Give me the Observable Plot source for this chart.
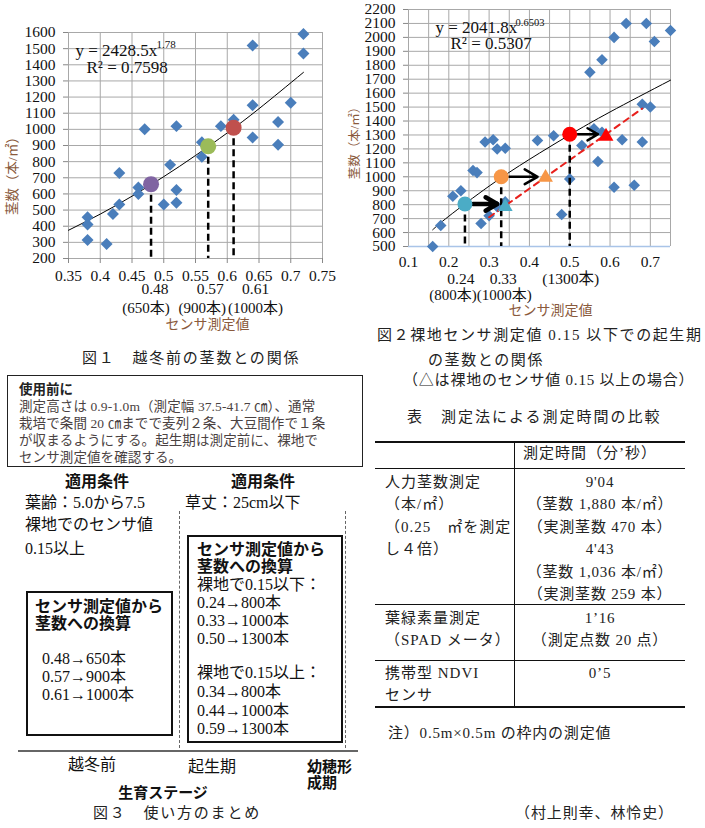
<!DOCTYPE html>
<html><head><meta charset="utf-8">
<script src="https://cdn.jsdelivr.net/npm/d3@7"></script>
<script src="https://cdn.jsdelivr.net/npm/@observablehq/plot@0.6"></script>
<style>
body{margin:0;background:#fff;}
#page{position:relative;width:705px;height:828px;overflow:hidden;font-family:"Liberation Serif","Noto Sans CJK JP",serif;color:#222;}
.t{position:absolute;white-space:pre;line-height:1;}
.plotwrap{position:absolute;}
</style></head><body><div id="page"></div>
<script>
// ---------- Figure 1 data ----------
const fig1Sensor = [0.72,0.72,0.64,0.70,0.64,0.68,0.64,0.68,0.61,0.59,0.52,0.47,0.56,0.56,0.51,0.43,0.46,0.52,0.46,0.43,0.50,0.52,0.42,0.38,0.38,0.38,0.41];
const fig1Stems  = [1590,1470,1520,1165,1150,1045,950,905,1060,1020,1020,1000,920,830,780,730,640,625,600,535,535,545,475,455,410,315,290];
const fig1XTicks = [0.35,0.4,0.45,0.5,0.55,0.6,0.65,0.7,0.75];
const fig1YTicks = [200,300,400,500,600,700,800,900,1000,1100,1200,1300,1400,1500,1600];
const fig1TrendX = [0.35,0.40,0.45,0.50,0.55,0.60,0.65,0.72];
const fig1TrendY = [375,475,586,707,838,978,1128,1353];
const fig1KeySensor = [0.48,0.57,0.61];
const fig1KeyStems  = [660,895,1010];
const fig1KeyCount  = [650,900,1000];
const fig1KeyColors = ["#8064A2","#9BBB59","#C0504D"];
const fig1Eq = "y = 2428.5x", fig1Exp = "1.78", fig1R2 = "R² = 0.7598";

// ---------- Figure 2 data ----------
const fig2Sensor = [0.75,0.64,0.69,0.71,0.61,0.58,0.55,0.68,0.70,0.56,0.58,0.63,0.68,0.53,0.57,0.46,0.42,0.29,0.31,0.32,0.34,0.26,0.27,0.50,0.61,0.66,0.23,0.21,0.18,0.16,0.28,0.30,0.32,0.34,0.48];
const fig2Stems  = [2050,2100,2100,1970,2000,1840,1750,1520,1500,1345,1320,1265,1250,1225,1110,1295,1260,1250,1265,1200,1205,1045,1030,985,925,940,900,860,650,500,665,720,785,820,730];
const fig2XGrid  = [0.1,0.15,0.2,0.25,0.3,0.35,0.4,0.45,0.5,0.55,0.6,0.65,0.7,0.75];
const fig2XLabels = [0.1,0.2,0.3,0.4,0.5,0.6,0.7];
const fig2YTicks = [500,600,700,800,900,1000,1100,1200,1300,1400,1500,1600,1700,1800,1900,2000,2100,2200];
const fig2TrendX = [0.16,0.20,0.30,0.40,0.50,0.60,0.75];
const fig2TrendY = [620,717,933,1125,1301,1465,1693];
const fig2KeySensor = [0.24,0.33,0.50];     // bare-ground ≤0.15 (circles)
const fig2KeyStems  = [805,1000,1305];
const fig2KeyCount  = [800,1000,1300];
const fig2TriSensor = [0.34,0.44,0.59];     // bare-ground ≥0.15 (triangles)
const fig2TriStems  = [785,995,1290];
const fig2KeyColors = ["#4BACC6","#F79646","#FF0000"];
const fig2DashX = [0.30,0.68];
const fig2DashY = [710,1490];
const fig2Eq = "y = 2041.8x", fig2Exp = "0.6503", fig2R2 = "R² = 0.5307";

// ---------- Table data ----------
const tableHeader = "測定時間（分’秒）";
const tableRowsLeft = [["人力茎数測定","（本/㎡）","（0.25　㎡を測定","し４倍）"],["葉緑素量測定","（SPAD メータ）"],["携帯型 NDVI","センサ"]];
const tableRowsRight = [["9'04","（茎数 1,880 本/㎡）","（実測茎数 470 本）","4'43","（茎数 1,036 本/㎡）","（実測茎数 259 本）"],["1’16","（測定点数 20 点）"],["0’5"]];

const SERIF = '"Liberation Serif","Noto Sans CJK JP",serif';
const GRID = "#a8a8a8";
const BLUE = "#4A7EBB";
const BROWN = "#8a5a3c";
const page = document.getElementById("page");

function T(txt, x, y, o = {}) {
  const d = document.createElement("div");
  d.className = "t";
  d.textContent = txt;
  d.style.left = x + "px"; d.style.top = y + "px";
  d.style.fontSize = (o.size || 15) + "px";
  if (o.bold) d.style.fontWeight = "bold";
  if (o.ls != null) d.style.letterSpacing = o.ls + "px";
  d.style.color = o.color || "#222";
  if (o.font) d.style.fontFamily = o.font;
  d.style.transform = o.center ? "translate(-50%,-50%)" : "translateY(-50%)";
  page.appendChild(d);
  return d;
}
function R(x, y, w, h, css) {
  const d = document.createElement("div");
  d.style.position = "absolute";
  d.style.boxSizing = "border-box";
  d.style.left = x + "px"; d.style.top = y + "px";
  d.style.width = w + "px"; d.style.height = h + "px";
  Object.assign(d.style, css);
  page.appendChild(d);
  return d;
}
function place(svg, x, y) {
  const w = document.createElement("div");
  w.className = "plotwrap";
  w.style.left = x + "px"; w.style.top = y + "px";
  w.appendChild(svg);
  page.appendChild(w);
}
const M = {lineAnchor: "middle"};

// ---------- Figure 1 ----------
const i1 = d3.range(fig1Sensor.length), k1 = d3.range(fig1KeySensor.length);
const f1LabelDx = [4, 2, 22], f1CountDx = [-5, -6, 22];
const fig1 = Plot.plot({
  width: 340, height: 340,
  marginLeft: 68, marginRight: 18, marginTop: 32, marginBottom: 82,
  style: {fontFamily: SERIF, fontSize: "15.5px", color: "#111", background: "transparent", overflow: "visible"},
  x: {domain: [0.35, 0.75]},
  y: {domain: [200, 1600]},
  color: {type: "identity"},
  marks: [
    Plot.gridX(fig1XTicks, {stroke: GRID, strokeOpacity: 1}),
    Plot.gridY(fig1YTicks, {stroke: GRID, strokeOpacity: 1}),
    Plot.axisY(fig1YTicks, {tickSize: 5, tickPadding: 8, label: null, stroke: "#888", fill: "#111", fontSize: 15.5, tickFormat: d => String(d)}),
    Plot.axisX(fig1XTicks, {tickSize: 5, tickPadding: 6, label: null, stroke: "#888", fill: "#111", fontSize: 15.5, tickFormat: d => String(d)}),
    Plot.line(d3.range(fig1TrendX.length), {x: i => fig1TrendX[i], y: i => fig1TrendY[i], curve: "natural", stroke: "#000", strokeWidth: 1}),
    Plot.dot(i1, {x: i => fig1Sensor[i], y: i => fig1Stems[i], symbol: "diamond2", r: 5.4, fill: BLUE}),
    Plot.ruleX(k1, {x: i => fig1KeySensor[i], y1: i => fig1KeyStems[i], y2: 200, stroke: "#000", strokeWidth: 2.5, strokeDasharray: "7,4"}),
    Plot.dot(k1, {x: i => fig1KeySensor[i], y: i => fig1KeyStems[i], r: 8, fill: i => fig1KeyColors[i]}),
    Plot.text([fig1Eq], {...M, text: d => d, frameAnchor: "top-left", dx: 7, dy: 18, textAnchor: "start", fontSize: 17, fill: "#111"}),
    Plot.text([fig1Exp], {...M, text: d => d, frameAnchor: "top-left", dx: 88, dy: 12, textAnchor: "start", fontSize: 11, fill: "#111"}),
    Plot.text([fig1R2], {...M, text: d => d, frameAnchor: "top-left", dx: 18, dy: 35, textAnchor: "start", fontSize: 17, fill: "#111"}),
    ...k1.map(i => Plot.text([i], {...M, x: j => fig1KeySensor[j], text: j => fig1KeySensor[j].toFixed(2), frameAnchor: "bottom", dy: 31, dx: f1LabelDx[i], fontSize: 15.5, fill: "#111"})),
    ...k1.map(i => Plot.text([i], {...M, x: j => fig1KeySensor[j], text: j => `(${fig1KeyCount[j]}本)`, frameAnchor: "bottom", dy: 50, dx: f1CountDx[i], fontSize: 15, fill: "#111"})),
    Plot.text(["センサ測定値"], {...M, text: d => d, frameAnchor: "bottom", dy: 66, dx: 12, fontSize: 14, fill: BROWN}),
    Plot.text(["茎数（本/㎡）"], {...M, text: d => d, frameAnchor: "left", textAnchor: "middle", rotate: -90, dx: -56, dy: 27, fontSize: 13.5, fill: BROWN})
  ]
});
place(fig1, 0, 0);

// ---------- Figure 2 ----------
const i2 = d3.range(fig2Sensor.length), k2 = d3.range(fig2KeySensor.length);
const arrowW = [4.5, 2.5, 2.5], arrowHead = [10, 9, 9];
const f2LabelDx = [-4, 2, 1], f2CountDx = [-12, 3];
const fig2 = Plot.plot({
  width: 365, height: 320,
  marginLeft: 68, marginRight: 35, marginTop: 9, marginBottom: 74,
  style: {fontFamily: SERIF, fontSize: "15.5px", color: "#111", background: "transparent", overflow: "visible"},
  x: {domain: [0.1, 0.75]},
  y: {domain: [500, 2200]},
  color: {type: "identity"},
  marks: [
    Plot.gridX(fig2XGrid, {stroke: GRID, strokeOpacity: 1}),
    Plot.gridY(fig2YTicks, {stroke: GRID, strokeOpacity: 1}),
    Plot.ruleY([500], {stroke: "#A9C4E8", strokeWidth: 1.5}),
    Plot.axisY(fig2YTicks, {tickSize: 5, tickPadding: 8, label: null, stroke: "#888", fill: "#111", fontSize: 15.5, tickFormat: d => String(d)}),
    Plot.axisX(fig2XLabels, {tickSize: 0, tickPadding: 9, label: null, fill: "#111", fontSize: 15.5, tickFormat: d => String(d)}),
    Plot.line(d3.range(fig2TrendX.length), {x: i => fig2TrendX[i], y: i => fig2TrendY[i], curve: "natural", stroke: "#000", strokeWidth: 1}),
    Plot.dot(i2, {x: i => fig2Sensor[i], y: i => fig2Stems[i], symbol: "diamond2", r: 5.2, fill: BLUE}),
    Plot.line(d3.range(fig2DashX.length), {x: i => fig2DashX[i], y: i => fig2DashY[i], stroke: "#E8201C", strokeWidth: 2, strokeDasharray: "6,5"}),
    Plot.ruleX(k2, {x: i => fig2KeySensor[i], y1: i => fig2KeyStems[i], y2: 500, stroke: "#000", strokeWidth: 2.5, strokeDasharray: "7,4"}),
    ...k2.map(i => Plot.arrow([i], {x1: j => fig2KeySensor[j], y1: j => fig2KeyStems[j], x2: j => fig2TriSensor[j], y2: j => fig2KeyStems[j], insetStart: 8, insetEnd: 8, stroke: "#000", strokeWidth: arrowW[i], headLength: arrowHead[i]})),
    Plot.dot(k2, {x: i => fig2KeySensor[i], y: i => fig2KeyStems[i], r: 7.5, fill: i => fig2KeyColors[i]}),
    Plot.dot(k2, {x: i => fig2TriSensor[i], y: i => fig2TriStems[i], symbol: "triangle", r: 5.5, fill: i => fig2KeyColors[i]}),
    Plot.text([fig2Eq], {...M, text: d => d, frameAnchor: "top-left", dx: 27, dy: 18, textAnchor: "start", fontSize: 17, fill: "#111"}),
    Plot.text([fig2Exp], {...M, text: d => d, frameAnchor: "top-left", dx: 107, dy: 13, textAnchor: "start", fontSize: 10.5, fill: "#111"}),
    Plot.text([fig2R2], {...M, text: d => d, frameAnchor: "top-left", dx: 42, dy: 34, textAnchor: "start", fontSize: 17, fill: "#111"}),
    ...k2.map(i => Plot.text([i], {...M, x: j => fig2KeySensor[j], text: j => j < 2 ? fig2KeySensor[j].toFixed(2) : `(${fig2KeyCount[j]}本)`, frameAnchor: "bottom", dy: 33, dx: f2LabelDx[i], fontSize: 15.5, fill: "#111"})),
    ...[0, 1].map(i => Plot.text([i], {...M, x: j => fig2KeySensor[j], text: j => `(${fig2KeyCount[j]}本)`, frameAnchor: "bottom", dy: 49, dx: f2CountDx[i], fontSize: 15, fill: "#111"})),
    Plot.text(["センサ測定値"], {...M, text: d => d, frameAnchor: "bottom", dy: 64, dx: 11, fontSize: 14, fill: BROWN}),
    Plot.text(["茎数（本/㎡）"], {...M, text: d => d, frameAnchor: "left", textAnchor: "middle", rotate: -90, dx: -54, dy: 12, fontSize: 12.5, fill: BROWN})
  ]
});
place(fig2, 340, 0);

// ---------- Captions ----------
T("図１　越冬前の茎数との関係", 82, 358, {size: 15, ls: 1.8});
T("図２裸地センサ測定値 0.15 以下での起生期", 377, 335, {size: 15, ls: 1.6});
T("の茎数との関係", 428, 360, {size: 15, ls: 1.6});
T("（△は裸地のセンサ値 0.15 以上の場合）", 403, 380, {size: 15, ls: 0.8});

// ---------- Usage box ----------
R(7, 375, 356, 92, {border: "1px solid #222"});
const usageColor = "#4a4242";
T("使用前に", 19, 390, {size: 13.5, bold: true, color: "#222"});
const usageLines = ["測定高さは 0.9-1.0m（測定幅 37.5-41.7 ㎝）、通常","栽培で条間 20 ㎝までで麦列２条、大豆間作で１条","が収まるようにする。起生期は測定前に、裸地で","センサ測定値を確認する。"];
usageLines.forEach((s, i) => T(s, 19, 407 + i * 17, {size: 13.5, ls: 0.1, color: usageColor}));

// ---------- Figure 3 ----------
T("適用条件", 97, 482, {size: 16, bold: true, center: true, color: "#111"});
T("適用条件", 263, 482, {size: 16, bold: true, center: true, color: "#111"});
T("葉齢：5.0から7.5", 25, 503, {size: 16, color: "#111"});
T("裸地でのセンサ値", 25, 525, {size: 16, color: "#111"});
T("0.15以上", 25, 549, {size: 16, color: "#111"});
T("草丈：25cm以下", 185, 503, {size: 16, color: "#111"});
R(179, 511, 1, 237, {borderLeft: "1.5px dashed #666"});
R(345, 511, 1, 237, {borderLeft: "1.5px dashed #666"});

R(26, 591, 147, 145, {border: "2px solid #111"});
T("センサ測定値から", 35, 607, {size: 16, bold: true, color: "#111"});
T("茎数への換算", 35, 624, {size: 16, bold: true, color: "#111"});
fig1KeySensor.forEach((s, i) => T(`${s.toFixed(2)}→${fig1KeyCount[i]}本`, 42, 659 + i * 18, {size: 16, color: "#111"}));

R(187, 535, 156, 208, {border: "2px solid #111"});
T("センサ測定値から", 197, 550, {size: 16, bold: true, color: "#111"});
T("茎数への換算", 197, 567, {size: 16, bold: true, color: "#111"});
T("裸地で0.15以下：", 197, 585, {size: 16, color: "#111"});
fig2KeySensor.forEach((s, i) => T(`${s.toFixed(2)}→${fig2KeyCount[i]}本`, 197, 603 + i * 18, {size: 16, color: "#111"}));
T("裸地で0.15以上：", 197, 673, {size: 16, color: "#111"});
fig2TriSensor.forEach((s, i) => T(`${s.toFixed(2)}→${fig2KeyCount[i]}本`, 197, 692 + i * 18.5, {size: 16, color: "#111"}));

R(18, 750, 340, 2, {background: "#666"});
T("越冬前", 92, 765, {size: 16, center: true, color: "#111"});
T("起生期", 212, 767, {size: 16, center: true, color: "#111"});
T("幼穂形", 307, 765, {size: 15, bold: true, color: "#111", font: '"Noto Sans CJK JP"'});
T("成期", 307, 781, {size: 15, bold: true, color: "#111", font: '"Noto Sans CJK JP"'});
T("生育ステージ", 163, 793, {size: 15, bold: true, center: true, color: "#111"});
T("図３　使い方のまとめ", 177, 813, {size: 15, ls: 1.8, center: true});

// ---------- Table ----------
T("表　測定法による測定時間の比較", 407, 417, {size: 15, ls: 2});
R(375, 441, 310, 1.5, {background: "#111"});
R(375, 468, 310, 1, {background: "#111"});
R(375, 604, 310, 1, {background: "#111"});
R(375, 660, 310, 1, {background: "#111"});
R(375, 706, 310, 1.5, {background: "#111"});
R(514, 441, 1, 266, {background: "#111"});
T(tableHeader, 523, 453, {size: 15, ls: 1});
const rowTops = [482, 618, 673];
tableRowsLeft.forEach((lines, r) => lines.forEach((s, j) => T(s, 385, rowTops[r] + j * 22.4, {size: 15, ls: 1})));
tableRowsRight.forEach((lines, r) => lines.forEach((s, j) => T(s, 600, rowTops[r] + j * 22.4, {size: 15, ls: 0.8, center: true})));
T("注）0.5m×0.5m の枠内の測定値", 388, 733, {size: 15, ls: 0.8});
T("（村上則幸、林怜史）", 515, 813, {size: 15, ls: 0.9});
</script>
</body></html>
